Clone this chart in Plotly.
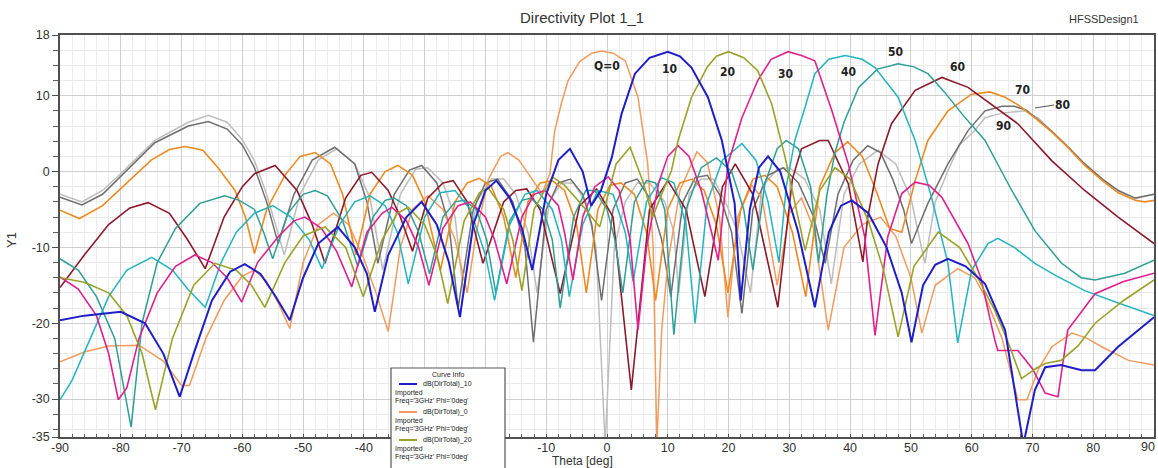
import plotly.graph_objects as go

# ---------------- data ----------------
THETA_TICKS = list(range(-90, 91, 10))
HIDDEN_TICKS = [-30, -20]          # covered by the "Curve Info" box in the reference
EDGE_TICK = 90                     # drawn flush with the right edge
Y_TICKS = [18, 10, 0, -10, -20, -30, -35]

CURVE_NAMES = ["Q=0", "10", "20", "30", "40", "50", "60", "70", "80", "90"]

# (theta [deg], dB) readings for each steering angle
DIR_0 = [(-90,-25.1),(-86,-23.8),(-82,-23.0),(-77,-22.9),(-73,-25.0),(-70,-28.2),(-68.7,-28.2),(-66,-22),(-63,-17),(-60,-13.8),(-58,-13),(-56,-14.5),(-54,-17.5),(-52.2,-20.7),(-50,-12),(-47.5,-7),(-45,-5.5),(-42.5,-7),(-40,-11.5),(-38,-16),(-36,-21.1),(-34,-10),(-32,-5),(-29.5,-3.2),(-27,-5),(-25,-9),(-23,-16),(-21.5,-8),(-19.5,-1),(-17.5,2.0),(-16.3,2.5),(-14.5,1.5),(-12.5,-0.8),(-10.7,-2.9),(-9.4,-0.3),(-8.6,5.4),(-7.5,9.0),(-6.4,12.0),(-4.5,14.5),(-2.5,15.6),(-0.9,15.9),(1,15.6),(3,14.6),(5.1,9.8),(6.7,1.0),(7.6,-10),(8.2,-36),(9,-20.9),(10,-12.1),(12,-2.5),(14.8,2.6),(16.5,1.2),(18.5,-6),(19.9,-19.2),(21.5,-6),(23.8,-1.8),(25.5,-3.5),(28,-15),(30,-5.5),(32,-3.5),(34,-7.5),(36.4,-20.9),(39,-10),(42,-7),(45,-6),(47.5,-8.5),(50,-14),(51.8,-21.3),(54,-15),(57.7,-12.8),(60.5,-14),(62.2,-16.5),(65,-22),(67.6,-30.1),(69.1,-30.1),(71,-26),(73.2,-23.1),(76.5,-21.3),(79,-22),(81.4,-23.1),(85.8,-24.9),(90,-25.5)]

DIR_10 = [(-90,-19.6),(-86,-19),(-80,-18.5),(-76,-20),(-73,-24),(-70.3,-29.7),(-68,-24),(-65,-17),(-62,-13.2),(-59.6,-12.2),(-57,-13.5),(-54.5,-16.5),(-52.2,-19.6),(-50,-14),(-47.5,-9.5),(-44.3,-7.3),(-41.5,-10),(-39.5,-13.5),(-38.2,-18.5),(-36,-11),(-33,-6),(-30.5,-4.0),(-28,-7),(-26,-12),(-24.2,-19.2),(-22,-7),(-20,-2.5),(-18.2,-1.2),(-16,-3.5),(-14,-7.5),(-12.3,-13),(-10,-3),(-8,1.5),(-6.1,3.0),(-4,0),(-2.6,-4.5),(-1,-2.5),(0.8,1.9),(2.4,7.6),(4.6,12.9),(7,15),(10,15.8),(12,15.2),(13.9,13.7),(16.6,9.8),(18.9,4.1),(19.9,0.1),(21,-4.2),(22,-17),(23.5,-5),(25,0.5),(26.5,2.0),(28.5,0),(31.4,-7.8),(34.2,-17.9),(36.5,-8),(38.5,-4.5),(40.3,-3.8),(43,-5.5),(46,-10),(48.5,-16),(50.1,-22.5),(52,-15),(54,-12.3),(56.1,-11.5),(59,-12.5),(62.2,-14.8),(65.5,-20.9),(68.5,-36),(70.4,-28.8),(72.1,-25.8),(74.7,-25.5),(78.1,-26.2),(80.3,-26.2),(84.1,-23.1),(90,-19.2)]

DIR_20 = [(-90,-14),(-86,-14.6),(-82,-16),(-79,-19),(-76.5,-24),(-74.3,-31.4),(-71.5,-22),(-68,-15),(-64.5,-12.1),(-61,-13),(-58.5,-15),(-56.3,-17.9),(-53,-12),(-50,-8.5),(-46.4,-7.3),(-43,-10),(-40.1,-16.5),(-37,-9),(-34.5,-5.5),(-32.7,-4.7),(-30,-7),(-28,-11),(-26.2,-17.4),(-23.5,-6.5),(-21,-2.8),(-19.6,-2.1),(-17,-5),(-15.5,-9),(-14,-15.7),(-12,-5),(-9,-0.7),(-7,-1.8),(-4,-4.5),(-1.2,-7.3),(1.5,1),(3.8,3.2),(6,-1.5),(7.5,-6),(9.5,-2),(10.6,0.1),(11.7,4.1),(13.9,9.8),(16.5,13.8),(18,15.2),(20,15.8),(22.5,15),(24.8,13.3),(27.1,8.9),(29.3,1.9),(30.4,-2.1),(32.6,-10.4),(35,-2.5),(37.5,0.5),(40,-1),(43,-6.5),(45.5,-13),(47.9,-21.8),(50.5,-12.5),(54.5,-8),(58,-10),(61,-14),(63.8,-18.3),(66,-22.5),(68.2,-27.3),(70.5,-26),(72.1,-25.3),(74.7,-24.9),(77.5,-23),(80.3,-20),(85,-17),(90,-14.3)]

DIR_30 = [(-90,-13.9),(-87,-15.5),(-84,-19),(-82,-24),(-80.4,-30.1),(-79,-28.5),(-77,-22),(-74,-16),(-71,-12.5),(-67.8,-11),(-65,-12),(-62.5,-14),(-60.1,-17.2),(-57.5,-12),(-54.1,-8.6),(-51.5,-6.5),(-49.7,-6),(-47,-7.5),(-44.5,-10.5),(-42,-15.2),(-39.5,-8),(-37,-5.5),(-35.4,-4.7),(-33,-6.5),(-31,-10),(-29.3,-15),(-27,-7.5),(-24.5,-4.5),(-22.5,-4),(-20,-6),(-18.5,-9),(-16.5,-14.8),(-14,-6),(-12,-3),(-10.2,-2.5),(-8,-4.5),(-7,-8),(-5.6,-14.3),(-4,-6),(-2,-2),(0.2,-0.7),(2,-2.5),(3.8,-9),(5.1,-20.9),(6.5,-10),(8.5,-1.5),(10,2),(11.7,3.4),(13.5,2),(15.5,-2.5),(17.2,-8),(18.3,-11.7),(19.9,1),(22.2,7.1),(24.8,12),(27,14.8),(29.8,15.8),(32,15.3),(34.2,14.6),(37,8),(39.7,1),(42.4,-8.6),(44.1,-21.6),(46.2,-8.6),(48.5,-2.9),(50.7,-1.4),(53,-1.8),(55.1,-3.4),(59.4,-9.5),(61.5,-14),(63.8,-22.2),(64.3,-23.6),(67.6,-23.6),(70,-26),(72.1,-29.2),(74.2,-29.7),(75.8,-20.9),(80.3,-16.1),(85,-14.5),(90,-13.4)]

DIR_40 = [(-90,-30.1),(-88,-27.5),(-85,-22),(-82,-16.5),(-79,-13),(-74.9,-11.3),(-71.5,-13),(-69,-15.5),(-66.1,-17.9),(-63.5,-12),(-61,-8),(-58,-5.5),(-55,-4.5),(-52,-6),(-49,-9),(-46.9,-12.8),(-44,-7),(-41.5,-4),(-39,-3.2),(-36.5,-4.5),(-34.5,-8),(-32.7,-14.8),(-30,-6),(-27.5,-2.8),(-25,-2.5),(-22.5,-5),(-20,-11),(-18.5,-17),(-16,-7),(-13.5,-3),(-11.5,-2.5),(-9,-5),(-7.5,-9),(-6.2,-16.5),(-4,-7),(-1.5,-2.5),(1,-3),(3,-8),(4.3,-14.5),(6.5,-4),(9,-0.8),(11,-1.5),(13,-7),(14.5,-20),(16.5,-4),(19,1.5),(22.2,3.7),(24.5,1.5),(26.5,-4),(28.3,-12),(29.5,-2),(30.9,4.1),(32.6,8.5),(34.2,12.9),(36.5,14.8),(39.2,15.3),(42,14.8),(44.1,13.7),(47.9,9.8),(50.7,4.1),(53.4,-3.4),(56.1,-12.1),(57.7,-22.6),(60,-13),(62.7,-9.5),(64.3,-8.8),(67,-10),(70.4,-12.1),(74,-13.8),(78.6,-15.7),(84,-17.3),(90,-19)]

DIR_50 = [(-90,-11.5),(-87,-13),(-84,-16.5),(-81,-22),(-78.3,-33.7),(-76.5,-20),(-74,-12),(-71,-7.5),(-67,-4.2),(-62.9,-3.2),(-60.5,-3.8),(-58,-5),(-56.5,-8),(-55,-11.5),(-52.5,-5.5),(-50,-3),(-48,-2.5),(-46,-3.2),(-43.5,-6.5),(-41,-12.5),(-38.5,-6),(-36.5,-3.8),(-35,-3.5),(-33,-4.5),(-31,-8),(-29.2,-13.5),(-27,-6),(-25,-4),(-23.5,-3.8),(-21.5,-5),(-19.8,-9),(-18.3,-16),(-16,-6.5),(-14,-3.8),(-12.5,-3.5),(-10.5,-5),(-9,-9),(-7.7,-18),(-5.5,-6),(-3.5,-2.5),(-2,-2.5),(0,-5),(1.3,-9),(2.6,-16),(4.5,-4),(6.5,-1.2),(8,-1.5),(9.5,-5),(11,-21.5),(13,-5),(15.5,0.5),(18,1.8),(20.5,0),(22.5,-5),(24,-13),(26,-1.5),(28,3),(29.5,4.1),(31.5,3),(33.5,-2),(34.8,-12),(36.2,-3),(37.5,2.5),(39,6.5),(41.4,11.1),(44.5,13.5),(47.9,14.2),(50.5,13.8),(52.8,12.9),(55.5,10.5),(58.4,7.6),(62.2,4.1),(66.6,-2.5),(70.4,-7.8),(74.8,-12.1),(78,-14),(80.3,-14.3),(85.2,-13.4),(90,-11.7)]

DIR_60 = [(-90,-15.3),(-86,-11),(-82,-7),(-78.5,-4.8),(-75.5,-4.1),(-72,-5.5),(-69,-9),(-66.1,-12.8),(-63,-6),(-60,-2),(-58,-0.3),(-54.6,0.8),(-51,-2.5),(-48.5,-7),(-46.4,-12.1),(-43,-3.5),(-40.5,-0.5),(-38.7,-0.1),(-36,-2.5),(-34,-6),(-32,-10.5),(-29.5,-3.5),(-27,-1.5),(-25.3,-1.2),(-23,-4),(-20.4,-12.1),(-17,-4),(-15,-2.5),(-13.2,-2.3),(-11,-5),(-7.7,-16.1),(-4.5,-4.5),(-1.7,-2.3),(1,-6),(4,-28.8),(7,-5),(10,-1.2),(13,-5),(16.1,-16.5),(19,-2),(21.1,1),(24,-3),(28.1,-17.9),(30.5,-1),(32,3),(35,4.1),(36.4,4.1),(39.7,-1.6),(42.1,-11.9),(42.9,-6),(44.6,1),(46.8,6.3),(50.7,10.7),(55.1,12.4),(59.4,11.1),(63.8,8.5),(67.6,6.3),(73.2,1.4),(78.6,-2.5),(84.1,-6),(90,-9.5)]

DIR_70 = [(-90,-5.1),(-86.8,-6.2),(-83,-4.5),(-79,-1.5),(-75,1.5),(-72,2.9),(-69.4,3.3),(-66.5,2.8),(-64,0.5),(-61.2,-2.5),(-59.5,-6),(-58,-10.8),(-56,-5),(-53,-0.5),(-50.5,2),(-48,2.5),(-45.5,1),(-43.5,-3),(-41.3,-11),(-39,-3),(-36.5,0),(-34.4,0.8),(-32,-0.5),(-30,-4),(-27.4,-13),(-25,-4),(-23,-1.5),(-21,-0.9),(-19,-2),(-17,-6),(-15,-14),(-13,-4),(-11,-1.5),(-9,-1.2),(-7,-2.5),(-5,-7),(-3.4,-16),(-1.5,-5),(0.5,-1.8),(2.3,-1.5),(4.5,-3),(6.5,-8),(8,-17),(10,-5),(12,-1.5),(14,-1),(16,-2.5),(18,-7),(19.9,-16),(22,-5),(24,-1),(26,-0.5),(28,-2),(30.5,-8),(32.7,-16.5),(35,-2),(37.5,2.5),(39.6,3.9),(42,2),(44.5,-3),(46.5,-7.5),(48.5,-8),(49.5,-5),(50.7,-1.2),(52.8,4.1),(56.1,8),(60,10.2),(63,10.5),(65.5,9.8),(68,8.6),(70.5,7),(73.2,5.2),(75.8,3.2),(78.6,0.8),(81.5,-1.2),(84.1,-2.8),(86.9,-3.8),(88.5,-4),(90,-3.8)]

DIR_80 = [(-90,-3.4),(-86.4,-4.4),(-83,-3),(-79.9,-0.5),(-74.4,3.8),(-68.9,6.0),(-65.6,6.6),(-62.5,5.6),(-60,3.5),(-58,0.5),(-56,-4),(-54.1,-9.5),(-51.5,-3),(-48.5,1.5),(-44.8,3.2),(-41.5,1),(-39.5,-4),(-37.7,-12.1),(-35,-3),(-32.5,0.2),(-30.5,0.8),(-28,-1.5),(-26,-7),(-24.5,-18),(-22,-5),(-20,-1.5),(-18,-1),(-15.5,-4),(-13.5,-10),(-12.1,-22.5),(-10,-5),(-8,-1.5),(-6,-1),(-4,-3),(-2.5,-7),(-0.9,-17),(1,-5),(3,-1.5),(5,-1),(7,-3.5),(9,-9),(10.5,-16.5),(12.5,-4),(14.5,-0.8),(16.5,-0.5),(18.5,-3),(20.5,-8),(22.2,-18.7),(24,-5),(26.5,-0.5),(29,0.5),(31.5,-1.5),(34,-6),(35.9,-12.1),(38,-3),(40.5,1.5),(42.9,3.4),(45,2.5),(47,-1),(48.8,-5),(50.1,-9.5),(52.8,-4.2),(56.1,1),(59.4,5.4),(62.2,8.0),(65,8.6),(67,8.6),(69,8.1),(71,6.8),(73.2,5.3),(75.8,3.3),(78.6,1),(81.5,-1),(84.1,-2.5),(86.9,-3.5),(90,-3)]

DIR_90 = [(-90,-3.0),(-86.4,-4.0),(-83,-2.5),(-79.9,-0.2),(-74.4,4.1),(-68.9,6.5),(-65.6,7.4),(-62.5,6.5),(-60,4.2),(-58,1.4),(-56,-3),(-53.1,-11),(-50.5,-3),(-47.5,1.5),(-44.5,3.0),(-41.5,1),(-39,-3.5),(-36.9,-13),(-34,-3),(-31.5,0.3),(-29.5,0.5),(-27,-1.5),(-25,-6),(-23.6,-16),(-21.5,-4),(-19,-1),(-17,-1),(-15,-3),(-13,-8),(-11.5,-16),(-9.5,-4),(-7.5,-1.5),(-5.5,-1.5),(-3.5,-4),(-1.8,-10),(-0.3,-36),(1.2,-10),(3,-4),(5,-1.5),(7,-1.5),(9.5,-4),(11,-8),(11.8,-16),(13.5,-3),(15.5,-1),(17.5,-1),(19.5,-4),(21.5,-8),(23.6,-16),(25.5,-2),(28,0.3),(30,0.5),(32.5,-1),(35,-5),(36.9,-14.8),(39,-3),(41.5,1),(44.6,2.8),(47.5,1),(50,-3.5),(52.3,-12.1),(54,-4),(56.1,0.1),(58,3.5),(60.5,5.4),(62.2,7.1),(65,7.7),(68.8,8.0),(71,7.0),(73.2,5.3),(75.8,3.3),(78.6,1.0),(81.5,-1.0),(84.1,-2.5),(86.9,-3.6),(90,-3)]

LEGEND_ROWS = ["dB(DirTotal)_10", "dB(DirTotal)_0", "dB(DirTotal)_20"]

# ---------------- styling ----------------
COLORS = ["#F39A5C", "#1E1EC8", "#9AA22A", "#E0208C", "#22B4C0",
          "#2E9E96", "#8B1A2A", "#EE8A22", "#6E6E6E", "#BDBDBD"]
WIDTHS = [1.5, 2.0, 1.6, 1.6, 1.5, 1.5, 1.6, 1.6, 1.5, 1.5]
SERIES = [DIR_0, DIR_10, DIR_20, DIR_30, DIR_40, DIR_50, DIR_60, DIR_70, DIR_80, DIR_90]

W, H = 1158, 468
L, R, T, B = 60, 1154, 35, 437


def px(x):
    return (x - L) / (R - L)


def py(y):
    return (B - y) / (B - T)


fig = go.Figure()
draw_order = [9, 8, 0, 7, 6, 5, 4, 3, 2, 1]
for i in draw_order:
    pts = SERIES[i]
    fig.add_trace(go.Scatter(
        x=[p[0] for p in pts], y=[p[1] for p in pts], mode="lines",
        line=dict(color=COLORS[i], width=WIDTHS[i]),
        name=CURVE_NAMES[i], showlegend=False, hoverinfo="skip"))

TXT = "#333333"
TICKFONT = dict(family="Liberation Sans, Arial, sans-serif", size=12.5, color=TXT)

fig.update_layout(
    width=W, height=H,
    margin=dict(l=L, r=W - R, t=T, b=H - B, pad=0, autoexpand=False),
    paper_bgcolor="white", plot_bgcolor="white",
    showlegend=False,
    xaxis=dict(range=[-90, 90], tickmode="array", tickvals=THETA_TICKS,
               ticktext=["" if (v in HIDDEN_TICKS or v == EDGE_TICK) else str(v)
                         for v in THETA_TICKS],
               automargin=False, ticklabelstandoff=-2,
               showgrid=True, gridcolor="#CFCFCF", gridwidth=1,
               zeroline=False, showline=True, mirror=True,
               linecolor="#505050", linewidth=1.5,
               ticks="inside", ticklen=3, tickcolor="#505050",
               tickfont=TICKFONT,
               minor=dict(dtick=2, tick0=0, showgrid=True, gridcolor="#EBEBEB",
                          gridwidth=1, ticks="inside", ticklen=3, tickcolor="#606060")),
    yaxis=dict(range=[-35, 18], tickmode="array", tickvals=Y_TICKS,
               ticktext=[str(v) for v in Y_TICKS], automargin=False,
               showgrid=True, gridcolor="#CFCFCF", gridwidth=1,
               zeroline=False, showline=True, mirror=True,
               linecolor="#505050", linewidth=1.5,
               ticks="outside", ticklen=6, tickcolor="#505050",
               tickfont=TICKFONT,
               minor=dict(dtick=2, tick0=0, showgrid=True, gridcolor="#EBEBEB",
                          gridwidth=1, ticks="outside", ticklen=5, tickcolor="#606060")),
)

ann = []
shapes = []

# right-most tick label, kept inside the page
ann.append(dict(text=str(EDGE_TICK), x=1.0, xref="paper", y=py(447), yref="paper",
                xshift=3, showarrow=False, xanchor="right", yanchor="middle", font=TICKFONT))

# title and header texts
ann.append(dict(text="Directivity Plot 1_1", x=px(582), y=py(17), xref="paper", yref="paper",
                showarrow=False, xanchor="center", yanchor="middle",
                font=dict(family="Liberation Sans, Arial", size=15, color=TXT)))
ann.append(dict(text="HFSSDesign1", x=px(1104), y=py(19), xref="paper", yref="paper",
                showarrow=False, xanchor="center", yanchor="middle",
                font=dict(family="Liberation Sans, Arial", size=11, color=TXT)))
ann.append(dict(text="Theta [deg]", x=px(582), y=py(461), xref="paper", yref="paper",
                showarrow=False, xanchor="center", yanchor="middle",
                font=dict(family="Liberation Sans, Arial", size=12, color=TXT)))
ann.append(dict(text="Y1", x=px(12), y=py(240), xref="paper", yref="paper",
                showarrow=False, xanchor="center", yanchor="middle", textangle=-90,
                font=dict(family="Liberation Sans, Arial", size=13, color=TXT)))

# beam labels
LABEL_POS = [(607, 66), (670, 69), (727, 72), (785, 74), (848, 72),
             (895, 52), (957, 67), (1022, 90), (1062, 105), (1003, 126)]
for name, (lx, ly) in zip(CURVE_NAMES, LABEL_POS):
    ann.append(dict(text="<b>%s</b>" % name, x=px(lx), y=py(ly), xref="paper", yref="paper",
                    showarrow=False, xanchor="center", yanchor="middle",
                    font=dict(family="Liberation Sans Narrow, DejaVu Sans Condensed, Arial", size=12,
                              color="#222222")))
shapes.append(dict(type="line", xref="paper", yref="paper", x0=px(1035), y0=py(108),
                   x1=px(1054), y1=py(105), line=dict(color="#555555", width=1), layer="above"))

# curve info box
bx0, bx1, by0, by1 = 391, 505, 368, 475
shapes.append(dict(type="rect", xref="paper", yref="paper", x0=px(bx0), x1=px(bx1),
                   y0=py(by1), y1=py(by0), fillcolor="white",
                   line=dict(color="#555555", width=1.2), layer="above"))
LFONT = dict(family="Liberation Sans, Arial", size=7, color="#222222")
ann.append(dict(text="Curve Info", x=px(448), y=py(374), xref="paper", yref="paper",
                showarrow=False, xanchor="center", yanchor="middle", font=LFONT))
row_colors = [COLORS[1], COLORS[0], COLORS[2]]
row_y = [384, 412, 440]
for label, col, ry in zip(LEGEND_ROWS, row_colors, row_y):
    shapes.append(dict(type="line", xref="paper", yref="paper", x0=px(399), x1=px(417),
                       y0=py(ry), y1=py(ry), line=dict(color=col, width=2), layer="above"))
    ann.append(dict(text=label, x=px(421), y=py(ry), xref="paper", yref="paper",
                    showarrow=False, xanchor="left", yanchor="middle", font=LFONT))
    ann.append(dict(text="Imported", x=px(393), y=py(ry + 8.5), xref="paper", yref="paper",
                    showarrow=False, xanchor="left", yanchor="middle", font=LFONT))
    ann.append(dict(text="Freq='3GHz' Phi='0deg'", x=px(393), y=py(ry + 17), xref="paper",
                    yref="paper", showarrow=False, xanchor="left", yanchor="middle", font=LFONT))

fig.update_layout(annotations=ann, shapes=shapes)
fig.write_html("out.html")
